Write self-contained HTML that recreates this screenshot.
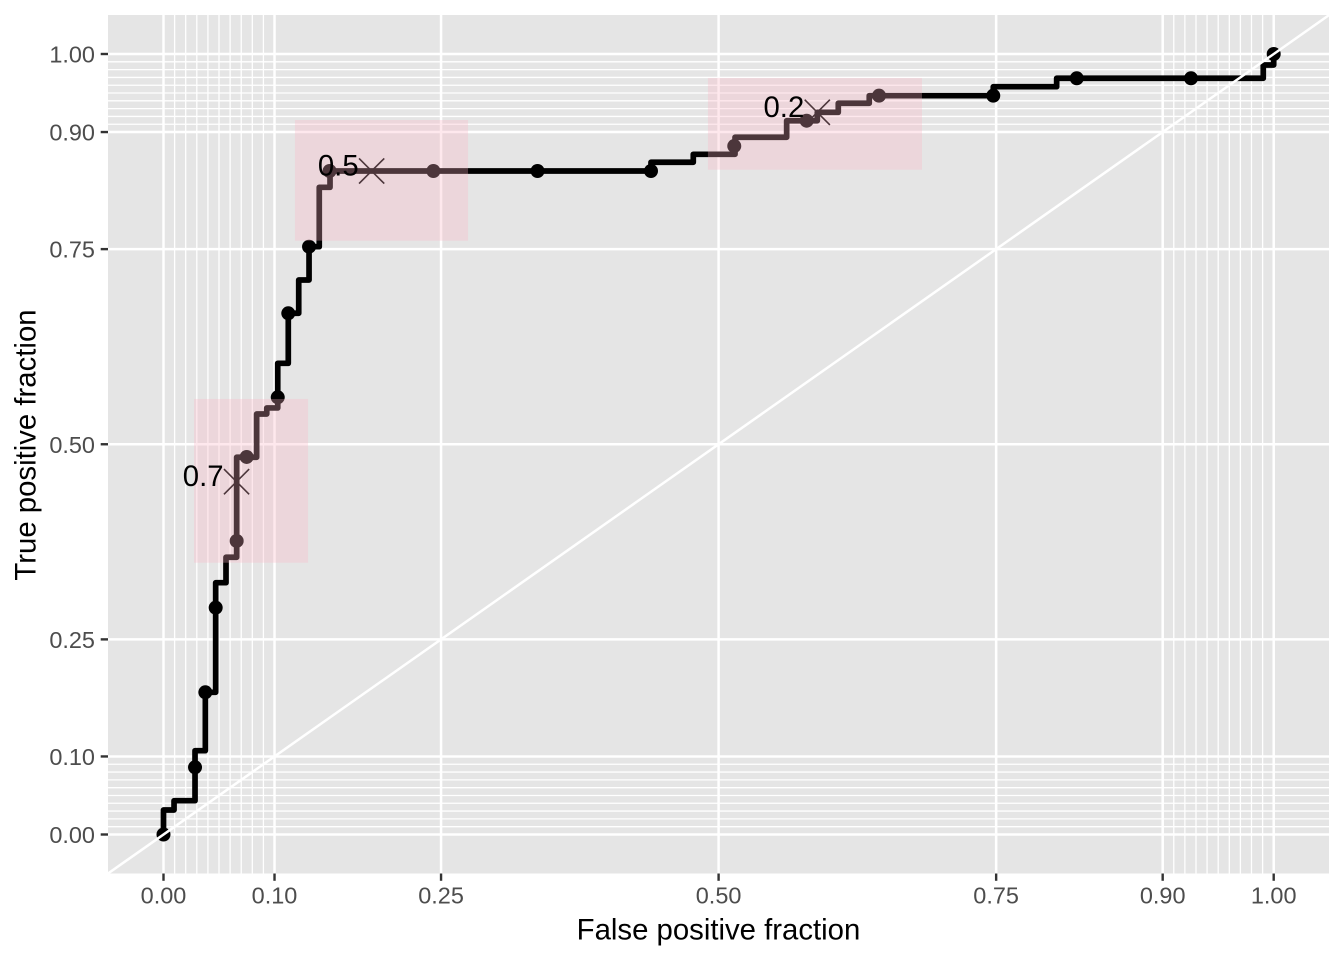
<!DOCTYPE html>
<html lang="en">
<head>
<meta charset="utf-8">
<title>ROC curve</title>
<style>
html,body{margin:0;padding:0;background:#fff;}
svg{display:block;font-family:"Liberation Sans",Arial,sans-serif;}
</style>
</head>
<body>
<svg id="chart" xmlns="http://www.w3.org/2000/svg" width="1344" height="960" viewBox="0 0 1344 960">
  <defs>
    <clipPath id="panel-clip"><rect x="108" y="15" width="1221" height="858.5"></rect></clipPath>
  </defs>
  <rect x="0" y="0" width="1344" height="960" fill="#ffffff"></rect>
  <rect x="108" y="15" width="1221" height="858.5" fill="#e5e5e5"></rect>
  <g id="grid"></g>
  <g id="marks" clip-path="url(#panel-clip)"></g>
  <g id="axes"></g>
  <text x="718.5" y="939.3" text-anchor="middle" font-size="29.33" fill="#000000">False positive fraction</text>
  <text transform="translate(35.5,445) rotate(-90)" text-anchor="middle" font-size="29.33" fill="#000000">True positive fraction</text>
</svg>
<script>
const tickValues = [0, 0.1, 0.25, 0.5, 0.75, 0.9, 1];
const tickLabels = ["0.00", "0.10", "0.25", "0.50", "0.75", "0.90", "1.00"];
const minorValues = [0.01, 0.02, 0.03, 0.04, 0.05, 0.06, 0.07, 0.08, 0.09, 0.91, 0.92, 0.93, 0.94, 0.95, 0.96, 0.97, 0.98, 0.99];
const diagonalEnds = [-0.05, 1.05];

const stepFpf = [0, 0.0095, 0.0284, 0.0377, 0.047, 0.0563, 0.0659, 0.0839, 0.093, 0.1029, 0.1124, 0.1218, 0.1311, 0.1403, 0.15, 0.4391, 0.4772, 0.5148, 0.5613, 0.5889, 0.6078, 0.6357, 0.7474, 0.8045, 0.9906, 1];
const stepTpf = [0.0314, 0.0433, 0.1074, 0.1822, 0.3226, 0.3552, 0.4833, 0.5388, 0.5465, 0.6037, 0.6678, 0.7104, 0.7531, 0.8292, 0.8501, 0.8613, 0.8715, 0.8933, 0.9145, 0.9253, 0.9369, 0.9466, 0.9581, 0.9689, 0.9859, 1];

const pointFpf = [0, 0.0284, 0.0377, 0.047, 0.0659, 0.0749, 0.1029, 0.1124, 0.1311, 0.1496, 0.2431, 0.3369, 0.4391, 0.5141, 0.5793, 0.6445, 0.7474, 0.8226, 0.9255, 1];
const pointTpf = [0, 0.0861, 0.1822, 0.2906, 0.3761, 0.4837, 0.5602, 0.6678, 0.7531, 0.8501, 0.8501, 0.8501, 0.8501, 0.8821, 0.9145, 0.9466, 0.9466, 0.9689, 0.9689, 1];

const cutoffLabels = ["0.7", "0.5", "0.2"];
const cutoffFpf = [0.0658, 0.1875, 0.5889];
const cutoffTpf = [0.452, 0.8501, 0.9253];

const ciFpfLow = [0.0275, 0.1184, 0.4904];
const ciFpfHigh = [0.1302, 0.2743, 0.6832];
const ciTpfLow = [0.3482, 0.7608, 0.8518];
const ciTpfHigh = [0.558, 0.9154, 0.9693];

const NS = "http://www.w3.org/2000/svg";
const PANEL = { left: 108, right: 1329, top: 15, bottom: 873.5 };
const xScale = v => 163.5 + 1110.2 * v;
const yScale = v => 834.5 - 780.5 * v;

function make(parent, tag, attrs, text) {
  const node = document.createElementNS(NS, tag);
  for (const key in attrs) node.setAttribute(key, attrs[key]);
  if (text !== undefined) node.textContent = text;
  parent.appendChild(node);
  return node;
}

const grid = document.getElementById("grid");
const marks = document.getElementById("marks");
const axes = document.getElementById("axes");

minorValues.forEach(v => {
  const vLine = make(grid, "line", { x1: xScale(v), x2: xScale(v), y1: PANEL.top, y2: PANEL.bottom, stroke: "#ffffff", "stroke-width": 1.3 });
  
  
  const hLine = make(grid, "line", { x1: PANEL.left, x2: PANEL.right, y1: yScale(v), y2: yScale(v), stroke: "#ffffff", "stroke-width": 1.3 });
  
  
});

tickValues.forEach((v, i) => {
  const vLine = make(grid, "line", { x1: xScale(v), x2: xScale(v), y1: PANEL.top, y2: PANEL.bottom, stroke: "#ffffff", "stroke-width": 2.5 });
  
  
  const hLine = make(grid, "line", { x1: PANEL.left, x2: PANEL.right, y1: yScale(v), y2: yScale(v), stroke: "#ffffff", "stroke-width": 2.5 });
  
  

  const xTick = make(axes, "line", { x1: xScale(v), x2: xScale(v), y1: PANEL.bottom, y2: PANEL.bottom + 7.3, stroke: "#333333", "stroke-width": 2.4 });
  
  
  const yTick = make(axes, "line", { x1: PANEL.left - 7.3, x2: PANEL.left, y1: yScale(v), y2: yScale(v), stroke: "#333333", "stroke-width": 2.4 });
  
  

  const xLabel = make(axes, "text", { x: xScale(v), y: 903.3, "text-anchor": "middle", "font-size": 23.47, fill: "#4d4d4d" }, tickLabels[i]);
  
  
  const yLabel = make(axes, "text", { x: 95, y: yScale(v) + 8.5, "text-anchor": "end", "font-size": 23.47, fill: "#4d4d4d" }, tickLabels[i]);
  
  
});

let stepPath = "M" + xScale(stepFpf[0]) + " " + yScale(0);
stepFpf.forEach((f, i) => {
  stepPath += " V" + yScale(stepTpf[i]);
  if (i + 1 < stepFpf.length) stepPath += " H" + xScale(stepFpf[i + 1]);
});
const rocLine = make(marks, "path", { d: stepPath, fill: "none", stroke: "#000000", "stroke-width": 5.7, "stroke-linejoin": "round", "stroke-linecap": "butt" });



pointFpf.forEach((f, i) => {
  const dot = make(marks, "circle", { cx: xScale(f), cy: yScale(pointTpf[i]), r: 7, fill: "#000000" });
  
  
});

cutoffFpf.forEach((f, i) => {
  const cx = xScale(f), cy = yScale(cutoffTpf[i]), h = 12.6;
  const cross = make(marks, "path", { d: `M${cx - h} ${cy - h} L${cx + h} ${cy + h} M${cx - h} ${cy + h} L${cx + h} ${cy - h}`, fill: "none", stroke: "#000000", "stroke-width": 1.6 });
  
  
});

const diagonal = make(marks, "line", { x1: xScale(diagonalEnds[0]), y1: yScale(diagonalEnds[0]), x2: xScale(diagonalEnds[1]), y2: yScale(diagonalEnds[1]), stroke: "#ffffff", "stroke-width": 2.5 });



ciFpfLow.forEach((f, i) => {
  const x0 = xScale(f), x1 = xScale(ciFpfHigh[i]);
  const y0 = yScale(ciTpfHigh[i]), y1 = yScale(ciTpfLow[i]);
  const box = make(marks, "rect", { x: x0, y: y0, width: x1 - x0, height: y1 - y0, fill: "rgb(252,178,196)", "fill-opacity": 0.3 });
  
  
});

cutoffLabels.forEach((label, i) => {
  const t = make(marks, "text", { x: xScale(cutoffFpf[i]) - 13, y: yScale(cutoffTpf[i]) + 4.5, "text-anchor": "end", "font-size": 29.33, fill: "#000000" }, label);
  
  
});
</script>
</body>
</html>
